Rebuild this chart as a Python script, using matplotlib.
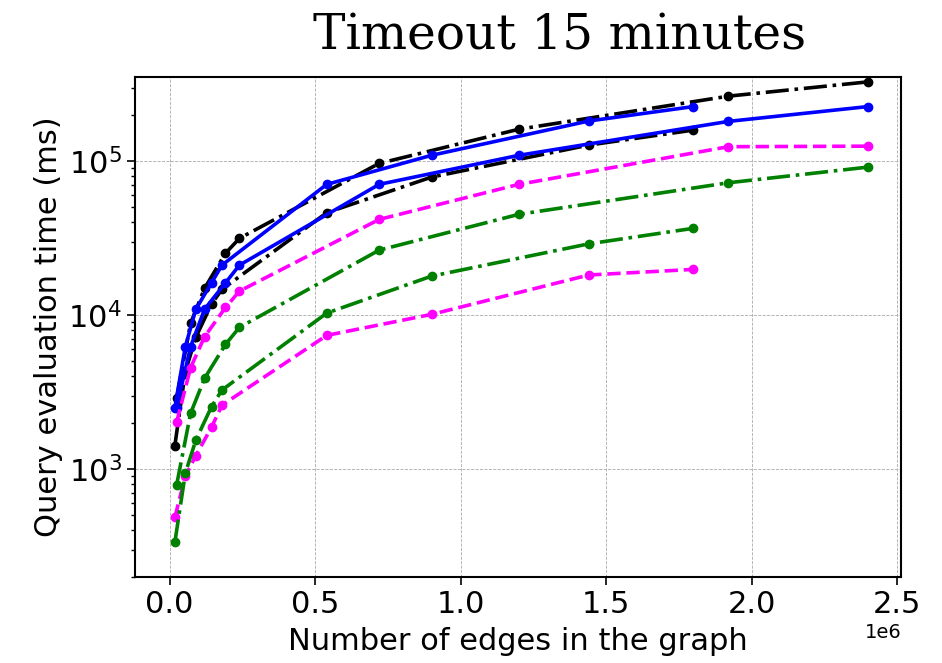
import matplotlib
matplotlib.use("Agg")
import matplotlib.pyplot as plt

# x values (number of edges), two graph families
x_a = [0.024e6, 0.072e6, 0.12e6, 0.192e6, 0.24e6, 0.72e6, 1.2e6, 1.92e6, 2.4e6]
x_b = [0.018e6, 0.054e6, 0.09e6, 0.144e6, 0.18e6, 0.54e6, 0.9e6, 1.44e6, 1.8e6]

# query evaluation times (ms)
black_a = [2880, 8830, 14900, 25200, 31500, 96600, 161000, 264000, 327000]
black_b = [1420, 4300, 7170, 11800, 14700, 46200, 78700, 127000, 159000]
blue_a = [2510, 6230, 10900, 16200, 21100, 70600, 109000, 181000, 226000]
blue_b = [2510, 6230, 10900, 16200, 21100, 70600, 109000, 182000, 226000]
magenta_a = [2010, 4550, 7230, 11200, 14300, 41800, 70600, 124000, 125000]
magenta_b = [485, 900, 1220, 1870, 2600, 7380, 10100, 18200, 19800]
green_a = [787, 2300, 3880, 6450, 8320, 26400, 45100, 72300, 91400]
green_b = [334, 940, 1540, 2540, 3260, 10300, 17900, 29000, 36600]

fig = plt.figure(figsize=(9.42, 6.63), dpi=100)
ax = fig.add_axes([0.1433, 0.1302, 0.8137, 0.7532])

lw = 2.6
ms = 6
ax.plot(x_a, black_a, color="black", linestyle="-.", marker="o", lw=lw, ms=ms)
ax.plot(x_b, black_b, color="black", linestyle="-.", marker="o", lw=lw, ms=ms)
ax.plot(x_a, blue_a, color="blue", linestyle="-", marker="o", lw=lw, ms=ms)
ax.plot(x_b, blue_b, color="blue", linestyle="-", marker="o", lw=lw, ms=ms)
ax.plot(x_a, magenta_a, color="magenta", linestyle="--", marker="o", lw=lw, ms=ms)
ax.plot(x_b, magenta_b, color="magenta", linestyle="--", marker="o", lw=lw, ms=ms)
ax.plot(x_a, green_a, color="green", linestyle="-.", marker="o", lw=lw, ms=ms)
ax.plot(x_b, green_b, color="green", linestyle="-.", marker="o", lw=lw, ms=ms)

ax.set_yscale("log")
ax.set_xlim(-0.119e6, 2.515e6)
ax.set_ylim(200, 3.5e5)
ax.grid(True, which="major", linestyle="--", linewidth=0.6, color="#aaaaaa")

ax.tick_params(axis="both", which="major", labelsize=22, length=6, width=1.2)
ax.tick_params(axis="y", which="minor", length=3, width=1)
ax.xaxis.get_offset_text().set_fontsize(14)
for s in ax.spines.values():
    s.set_linewidth(1.5)

ax.set_xlabel("Number of edges in the graph", fontsize=22, labelpad=6)
ax.set_ylabel("Query evaluation time (ms)", fontsize=22)
fig.text(0.594, 0.945, "Timeout 15 minutes", ha="center", va="center",
         fontsize=35, family="DejaVu Serif")

plt.savefig("out.png", dpi=100)
plt.close()
